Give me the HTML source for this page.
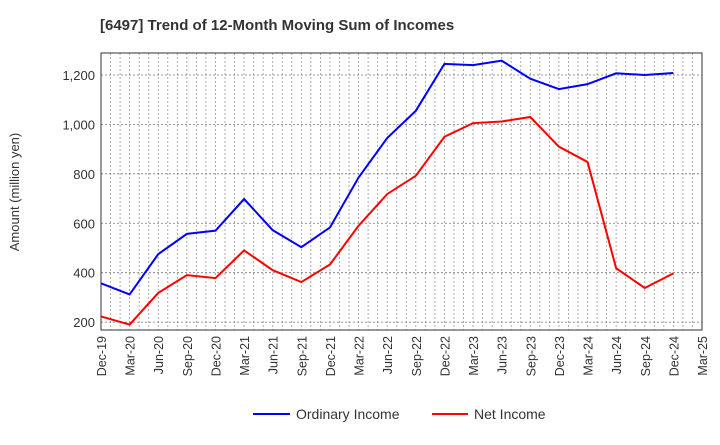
<!DOCTYPE html>
<html><head><meta charset="utf-8"><style>
body{margin:0;background:#fff;font-family:"Liberation Sans",sans-serif}
</style></head><body>
<svg width="720" height="440" xmlns="http://www.w3.org/2000/svg">
<text x="100" y="30" font-size="15" font-weight="bold" fill="#333">[6497]  Trend of 12-Month Moving Sum of Incomes</text>
<g id="grid"></g>
<g id="axes"></g>
<g id="series"></g>
<text transform="translate(19,192) rotate(-90)" text-anchor="middle" font-size="13" fill="#333">Amount (million yen)</text>
<g>
<g><line x1="253" y1="414" x2="290" y2="414" stroke="#0000ff" stroke-width="2"/><text x="296" y="419" font-size="14" fill="#333">Ordinary Income</text></g>
<g><line x1="432" y1="414" x2="468" y2="414" stroke="#ff0000" stroke-width="2"/><text x="474" y="419" font-size="14" fill="#333">Net Income</text></g>
</g>
</svg>
<script>
const categories=["Dec-19","Mar-20","Jun-20","Sep-20","Dec-20","Mar-21","Jun-21","Sep-21","Dec-21","Mar-22","Jun-22","Sep-22","Dec-22","Mar-23","Jun-23","Sep-23","Dec-23","Mar-24","Jun-24","Sep-24","Dec-24","Mar-25"];
const ordinaryIncome=[357,312,475,557,570,698,572,503,583,785,945,1055,1245,1240,1258,1185,1143,1163,1207,1200,1208];
const netIncome=[223,190,318,390,378,490,410,362,433,590,718,792,950,1005,1012,1030,910,848,418,338,397];
const yTicks=[200,400,600,800,1000,1200];
const NS="http://www.w3.org/2000/svg";
const L=101,R=702,T=53,B=330,yMin=168,yMax=1289;
const x=i=>L+i*(R-L)/(categories.length-1);
const y=v=>B-(v-yMin)/(yMax-yMin)*(B-T);
function mk(tag,attrs,parent){const e=document.createElementNS(NS,tag);for(const k in attrs)e.setAttribute(k,attrs[k]);parent.appendChild(e);return e;}
const grid=document.getElementById('grid'),axes=document.getElementById('axes'),series=document.getElementById('series');
for(let m=1;m<(categories.length-1)*3;m++){const xx=L+m*(R-L)/((categories.length-1)*3);
const g=mk('line',{x1:xx,x2:xx,y1:T,y2:B,stroke:'#999','stroke-width':0.8,'stroke-dasharray':'2,2'},grid);

}
yTicks.forEach(v=>{const g=mk('line',{x1:L,x2:R,y1:y(v),y2:y(v),stroke:'#777','stroke-width':0.8,'stroke-dasharray':'2,2'},grid);


const t=mk('text',{x:L-6,y:y(v)+5,'text-anchor':'end','font-size':13,fill:'#333'},axes);t.textContent=v.toLocaleString('en-US');

});
const fr=mk('rect',{x:L,y:T,width:R-L,height:B-T,fill:'none',stroke:'#333','stroke-width':1},axes);


categories.forEach((c,i)=>{const t=mk('text',{transform:`translate(${x(i)+5},${B+6}) rotate(-90)`,'text-anchor':'end','font-size':12.5,fill:'#333'},axes);t.textContent=c;

});
function line(d,col,name){const p=mk('polyline',{points:d.map((v,i)=>x(i)+','+y(v)).join(' '),fill:'none',stroke:col,'stroke-width':2},series);

}
line(ordinaryIncome,'#0000ff','ordinary-income-line');
line(netIncome,'#ff0000','net-income-line');
</script>
</body></html>
